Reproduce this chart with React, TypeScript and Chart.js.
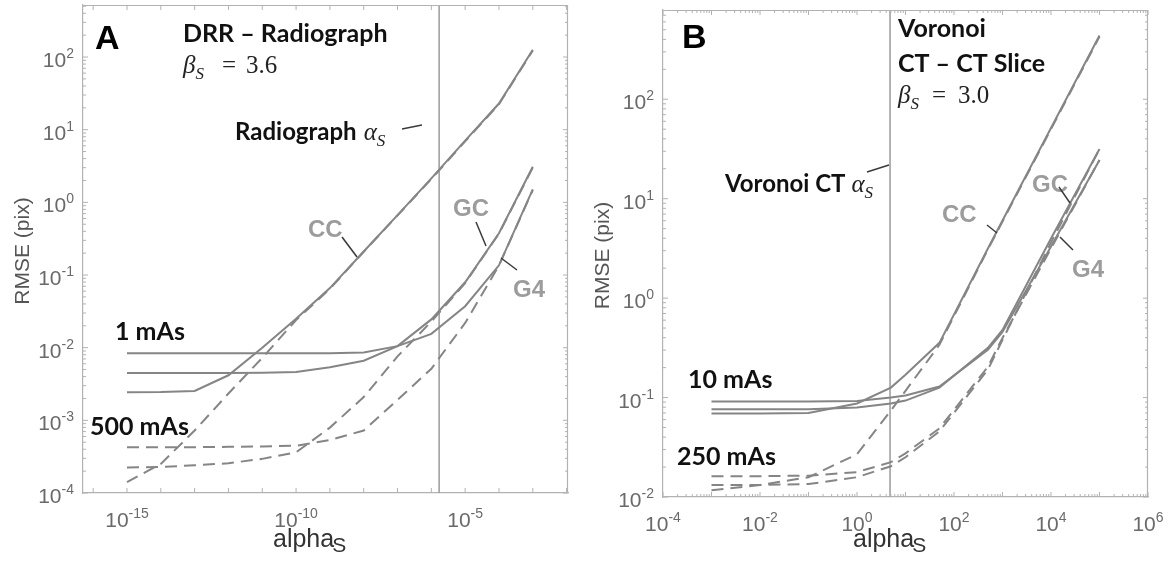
import React, { useEffect, useRef } from "react";
import { Chart, registerables } from "chart.js";

Chart.register(...registerables);

// ---------------- Panel A : DRR – Radiograph ----------------
const alphaA = [1e-15, 1e-14, 1e-13, 1e-12, 1e-11, 1e-10, 1e-9, 1e-8, 1e-7, 1e-6, 1e-5, 1e-4, 1e-3];
// 1 mAs (solid)
const ccA1 = [0.00243, 0.00245, 0.00254, 0.00417, 0.01, 0.0251, 0.0661, 0.211, 0.668, 2.14, 7.08, 22.9, 126];
const gcA1 = [0.00447, 0.00447, 0.00447, 0.00447, 0.00452, 0.00462, 0.00537, 0.00661, 0.0105, 0.0245, 0.0794, 0.376, 3.09];
const g4A1 = [0.00836, 0.00836, 0.00836, 0.00836, 0.00836, 0.00836, 0.00841, 0.00861, 0.0105, 0.0155, 0.0372, 0.136, 1.51];
// 500 mAs (dashed)
const ccA500 = [0.000141, 0.000251, 0.000724, 0.00234, 0.00724, 0.024, 0.0646, 0.209, 0.661, 2.09, 6.92, 22.4, 123];
const gcA500 = [0.000224, 0.000229, 0.00024, 0.000257, 0.000295, 0.000363, 0.000794, 0.00209, 0.00759, 0.0229, 0.0776, 0.372, 3.02];
const g4A500 = [0.000427, 0.000427, 0.000427, 0.000432, 0.000437, 0.000447, 0.000537, 0.000724, 0.00191, 0.00513, 0.0219, 0.135, 1.48];
const radiographAlphaS = 1.7e-6;
const xRangeA = [5e-17, 1.1e-2];
const yRangeA = [1e-4, 520];
const xTicksA = [1e-16, 1e-15, 1e-14, 1e-13, 1e-12, 1e-11, 1e-10, 1e-9, 1e-8, 1e-7, 1e-6, 1e-5, 1e-4, 1e-3, 1e-2];
const xLabelsA = [1e-15, 1e-10, 1e-5];
const yTicksA = [1e-4, 1e-3, 1e-2, 1e-1, 1, 10, 100];

// ---------------- Panel B : Voronoi CT – CT Slice ----------------
const alphaB = [0.001, 0.01, 0.1, 1, 5, 10, 50, 500, 1000, 10000, 100000];
// 10 mAs (solid)
const ccB10 = [0.0692, 0.0692, 0.07, 0.0871, 0.126, 0.17, 0.355, 3.16, 6.03, 51.3, 437];
const gcB10 = [0.0762, 0.0762, 0.0764, 0.0794, 0.0871, 0.0933, 0.126, 0.316, 0.479, 3.98, 31.6];
const g4B10 = [0.0912, 0.0912, 0.0912, 0.0923, 0.1, 0.105, 0.129, 0.302, 0.457, 3.31, 24.5];
// 250 mAs (dashed)
const ccB250 = [0.0117, 0.0132, 0.0158, 0.0269, 0.0741, 0.117, 0.339, 3.09, 5.89, 50.1, 427];
const gcB250 = [0.0132, 0.0132, 0.0135, 0.0158, 0.0204, 0.0251, 0.0457, 0.191, 0.38, 3.63, 31.6];
const g4B250 = [0.0162, 0.0162, 0.0164, 0.0178, 0.0224, 0.0275, 0.049, 0.204, 0.398, 3.16, 24.5];
const voronoiAlphaS = 4.8;
const xRangeB = [1e-4, 1e6];
const yRangeB = [1e-2, 790];
const xTicksB = [1e-4, 1e-3, 1e-2, 1e-1, 1, 10, 100, 1e3, 1e4, 1e5, 1e6];
const xLabelsB = [1e-4, 1e-2, 1, 1e2, 1e4, 1e6];
const yTicksB = [1e-2, 1e-1, 1, 10, 100];

// ---------------- styles ----------------
const FRAME = "#b2b2b2";
const CURVE = "#858585";
const VLINE = "#9a9a9a";
const TICKLBL = "#6a6a6a";
const LABELGRAY = "#9c9c9c";
const LEADER = "#3a3a3a";
const SANS = '"Liberation Sans", Arial, sans-serif';
const BOLD = 'Lato, "Liberation Sans", sans-serif';
const SERIF = '"Liberation Serif", "DejaVu Serif", serif';
const DASH = [12, 7];

type Ctx = CanvasRenderingContext2D;

function txt(ctx: Ctx, s: string, x: number, y: number, font: string, color: string, align: CanvasTextAlign = "left") {
  ctx.font = font;
  ctx.fillStyle = color;
  ctx.textAlign = align;
  ctx.textBaseline = "alphabetic";
  ctx.fillText(s, x, y);
  return ctx.measureText(s).width;
}

function seg(ctx: Ctx, x1: number, y1: number, x2: number, y2: number, color: string, w: number) {
  ctx.beginPath();
  ctx.strokeStyle = color;
  ctx.lineWidth = w;
  ctx.setLineDash([]);
  ctx.moveTo(x1, y1);
  ctx.lineTo(x2, y2);
  ctx.stroke();
}

function powLabel(ctx: Ctx, v: number, x: number, y: number, mode: "center" | "right") {
  const e = String(Math.round(Math.log10(v)));
  ctx.font = `21px ${SANS}`;
  const wb = ctx.measureText("10").width;
  ctx.font = `14px ${SANS}`;
  const we = ctx.measureText(e).width;
  const total = wb + we;
  const start = mode === "center" ? x - total / 2 : x - total;
  txt(ctx, "10", start, y, `21px ${SANS}`, TICKLBL);
  txt(ctx, e, start + wb, y - 9, `14px ${SANS}`, TICKLBL);
}

function minorValues(min: number, max: number) {
  const out: number[] = [];
  for (let d = Math.floor(Math.log10(min)); d <= Math.ceil(Math.log10(max)); d++) {
    for (let k = 2; k <= 9; k++) {
      const v = k * Math.pow(10, d);
      if (v > min && v < max) out.push(v);
    }
  }
  return out;
}

function mathSub(ctx: Ctx, greek: string, x: number, y: number, size: number) {
  const w = txt(ctx, greek, x, y, `italic ${size}px ${SERIF}`, "#222");
  const ws = txt(ctx, "S", x + w, y + size * 0.22, `italic ${Math.round(size * 0.68)}px ${SERIF}`, "#222");
  return w + ws;
}

type Spec = {
  xs: number[];
  solid: number[][];
  dashed: number[][];
  vline: number;
  xRange: number[];
  yRange: number[];
  xTicks: number[];
  xLabels: number[];
  yTicks: number[];
  xMinor: boolean;
  padding: { left: number; right: number; top: number; bottom: number };
  yTitleX: number;
  xTitleLeft: number;
  annotate: (ctx: Ctx) => void;
};

function annotateA(ctx: Ctx) {
  txt(ctx, "A", 95, 49, `bold 34px ${SANS}`, "#000");
  txt(ctx, "DRR \u2013 Radiograph", 183, 42, `bold 25px ${BOLD}`, "#111");
  mathSub(ctx, "\u03B2", 183, 73, 25);
  txt(ctx, "=", 222, 73, `25px ${SERIF}`, "#222");
  txt(ctx, "3.6", 246, 73, `25px ${SERIF}`, "#222");
  const w = txt(ctx, "Radiograph", 235, 140, `bold 24px ${BOLD}`, "#111");
  mathSub(ctx, "\u03B1", 235 + w + 7, 140, 25);
  seg(ctx, 402, 129, 422, 125, LEADER, 1.5);
  txt(ctx, "CC", 308, 237, `bold 24px ${SANS}`, LABELGRAY);
  seg(ctx, 342, 237, 357, 257, LEADER, 1.5);
  txt(ctx, "GC", 453, 216, `bold 24px ${SANS}`, LABELGRAY);
  seg(ctx, 476, 222, 486, 246, LEADER, 1.5);
  txt(ctx, "G4", 513, 297, `bold 24px ${SANS}`, LABELGRAY);
  seg(ctx, 501, 258, 517, 270, LEADER, 1.5);
  txt(ctx, "1 mAs", 115, 340, `bold 25px ${BOLD}`, "#111");
  txt(ctx, "500 mAs", 90, 435, `bold 25px ${BOLD}`, "#111");
}

function annotateB(ctx: Ctx) {
  txt(ctx, "B", 94, 48, `bold 34px ${SANS}`, "#000");
  txt(ctx, "Voronoi", 310, 37, `bold 25px ${BOLD}`, "#111");
  txt(ctx, "CT \u2013 CT Slice", 310, 72, `bold 25px ${BOLD}`, "#111");
  mathSub(ctx, "\u03B2", 310, 103, 25);
  txt(ctx, "=", 344, 103, `25px ${SERIF}`, "#222");
  txt(ctx, "3.0", 370, 103, `25px ${SERIF}`, "#222");
  const w = txt(ctx, "Voronoi CT", 137, 192, `bold 24px ${BOLD}`, "#111");
  mathSub(ctx, "\u03B1", 137 + w + 6, 192, 25);
  seg(ctx, 279, 172, 301, 165, LEADER, 1.5);
  txt(ctx, "CC", 354, 222, `bold 24px ${SANS}`, LABELGRAY);
  seg(ctx, 399, 225, 409, 233, LEADER, 1.5);
  txt(ctx, "GC", 444, 192, `bold 24px ${SANS}`, LABELGRAY);
  seg(ctx, 471, 187, 482, 203, LEADER, 1.5);
  txt(ctx, "G4", 484, 277, `bold 24px ${SANS}`, LABELGRAY);
  seg(ctx, 472, 237, 485, 250, LEADER, 1.5);
  txt(ctx, "10 mAs", 100, 388, `bold 25px ${BOLD}`, "#111");
  txt(ctx, "250 mAs", 89, 465, `bold 25px ${BOLD}`, "#111");
}

function buildConfig(spec: Spec): any {
  const toPts = (ys: number[]) => spec.xs.map((x, i) => ({ x, y: ys[i] }));
  const datasets: any[] = [];
  spec.solid.forEach((s) =>
    datasets.push({ data: toPts(s), borderColor: CURVE, borderWidth: 2, pointRadius: 0, fill: false, tension: 0 })
  );
  spec.dashed.forEach((s) =>
    datasets.push({ data: toPts(s), borderColor: CURVE, borderWidth: 2, borderDash: DASH, pointRadius: 0, fill: false, tension: 0 })
  );
  datasets.push({
    data: [
      { x: spec.vline, y: spec.yRange[0] },
      { x: spec.vline, y: spec.yRange[1] },
    ],
    borderColor: VLINE,
    borderWidth: 1.5,
    pointRadius: 0,
    fill: false,
  });

  const deco = {
    id: "deco",
    afterDraw(chart: any) {
      const ctx: Ctx = chart.ctx;
      const a = chart.chartArea;
      const xs = chart.scales.x;
      const ys = chart.scales.y;
      ctx.save();
      // frame top/right
      seg(ctx, a.left, a.top + 0.5, a.right, a.top + 0.5, FRAME, 1.2);
      seg(ctx, a.right - 0.5, a.top, a.right - 0.5, a.bottom, FRAME, 1.2);
      // x ticks
      for (const t of xs.ticks) {
        const px = xs.getPixelForValue(t.value);
        seg(ctx, px, a.bottom, px, a.bottom - 5, FRAME, 1);
        seg(ctx, px, a.top, px, a.top + 5, FRAME, 1);
      }
      if (spec.xMinor) {
        for (const v of minorValues(spec.xRange[0], spec.xRange[1])) {
          const px = xs.getPixelForValue(v);
          seg(ctx, px, a.bottom, px, a.bottom - 3, FRAME, 1);
          seg(ctx, px, a.top, px, a.top + 3, FRAME, 1);
        }
      }
      for (const t of ys.ticks) {
        const py = ys.getPixelForValue(t.value);
        seg(ctx, a.left, py, a.left + 5, py, FRAME, 1);
        seg(ctx, a.right, py, a.right - 5, py, FRAME, 1);
      }
      for (const v of minorValues(spec.yRange[0], spec.yRange[1])) {
        const py = ys.getPixelForValue(v);
        seg(ctx, a.left, py, a.left + 3, py, FRAME, 1);
        seg(ctx, a.right, py, a.right - 3, py, FRAME, 1);
      }
      // tick labels
      for (const v of spec.xLabels) powLabel(ctx, v, xs.getPixelForValue(v), a.bottom + 34, "center");
      for (const t of ys.ticks) powLabel(ctx, t.value, a.left - 9, ys.getPixelForValue(t.value) + 10, "right");
      // axis titles
      ctx.save();
      ctx.translate(spec.yTitleX, (a.top + a.bottom) / 2 + 2);
      ctx.rotate(-Math.PI / 2);
      ctx.font = `21px ${SANS}`;
      ctx.fillStyle = "#555";
      ctx.textAlign = "center";
      ctx.textBaseline = "middle";
      ctx.fillText("RMSE (pix)", 0, 0);
      ctx.restore();
      const wa = txt(ctx, "alpha", spec.xTitleLeft, 547, `25px ${SANS}`, "#333");
      txt(ctx, "S", spec.xTitleLeft + wa - 2, 552, `21px ${SANS}`, "#333");
      spec.annotate(ctx);
      ctx.restore();
    },
  };

  const scaleCommon = (range: number[], ticks: number[]) => ({
    type: "logarithmic",
    min: range[0],
    max: range[1],
    ticks: { display: false },
    grid: { display: true, drawOnChartArea: false, drawTicks: false },
    border: { display: true, color: FRAME, width: 1.2 },
    title: { display: false },
    afterBuildTicks: (scale: any) => {
      scale.ticks = ticks.map((value) => ({ value }));
    },
  });

  return {
    type: "line",
    data: { datasets },
    options: {
      animation: false,
      responsive: false,
      maintainAspectRatio: false,
      parsing: true,
      layout: { padding: spec.padding },
      plugins: { legend: { display: false }, tooltip: { enabled: false }, title: { display: false } },
      elements: { point: { radius: 0 } },
      scales: {
        x: scaleCommon(spec.xRange, spec.xTicks),
        y: scaleCommon(spec.yRange, spec.yTicks),
      },
    },
    plugins: [deco],
  };
}

const specA: Spec = {
  xs: alphaA,
  solid: [ccA1, gcA1, g4A1],
  dashed: [ccA500, gcA500, g4A500],
  vline: radiographAlphaS,
  xRange: xRangeA,
  yRange: yRangeA,
  xTicks: xTicksA,
  xLabels: xLabelsA,
  yTicks: yTicksA,
  xMinor: false,
  padding: { left: 83, right: 20, top: 5, bottom: 71 },
  yTitleX: 23,
  xTitleLeft: 273,
  annotate: annotateA,
};

const specB: Spec = {
  xs: alphaB,
  solid: [ccB10, gcB10, g4B10],
  dashed: [ccB250, gcB250, g4B250],
  vline: voronoiAlphaS,
  xRange: xRangeB,
  yRange: yRangeB,
  xTicks: xTicksB,
  xLabels: xLabelsB,
  yTicks: yTicksB,
  xMinor: true,
  padding: { left: 75, right: 28, top: 10, bottom: 67 },
  yTitleX: 15,
  xTitleLeft: 265,
  annotate: annotateB,
};

function Panel({ spec, left }: { spec: Spec; left: number }) {
  const ref = useRef<HTMLCanvasElement | null>(null);
  useEffect(() => {
    if (!ref.current) return;
    const chart = new Chart(ref.current, buildConfig(spec));
    return () => chart.destroy();
  }, [spec]);
  return (
    <canvas
      ref={ref}
      width={588}
      height={564}
      style={{ position: "absolute", left, top: 0, width: 588, height: 564 }}
    />
  );
}

export default function App() {
  return (
    <div style={{ position: "fixed", left: 0, top: 0, width: 1176, height: 564, background: "#fff", overflow: "hidden" }}>
      <Panel spec={specA} left={0} />
      <Panel spec={specB} left={588} />
    </div>
  );
}
